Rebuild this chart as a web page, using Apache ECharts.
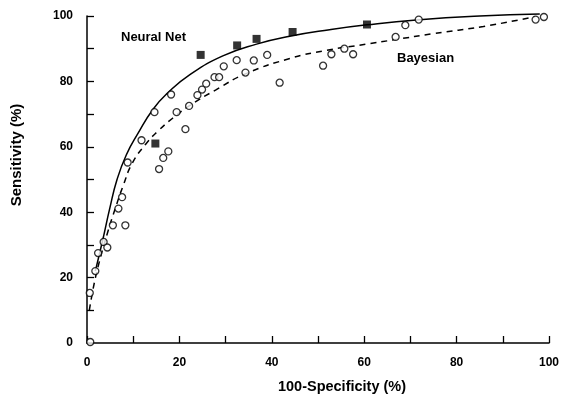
<!DOCTYPE html>
<html>
<head>
<meta charset="utf-8">
<script src="https://cdn.jsdelivr.net/npm/echarts@6/dist/echarts.min.js"></script>
<style>
  html, body { margin: 0; padding: 0; background: #fff; }
  #chart { width: 563px; height: 395px; }
</style>
</head>
<body>
<div id="chart"></div>
<script>
// traced fitted curves, [100-specificity, sensitivity]
const neuralCurve = [
  [1.8, 22], [3.4, 31.5], [4.9, 41], [6.5, 50], [8.5, 57.5], [11, 64],
  [14.3, 71.5], [17.5, 76.5], [22.2, 82], [29.4, 87.8], [36.7, 91.4],
  [43.9, 93.8], [52.5, 95.8], [60.6, 97.3], [71.3, 98.8], [85, 100], [98, 100.6],
];
const bayesCurve = [
  [0.5, 10], [1.6, 18.5], [2.7, 25], [4.4, 33.5], [6.2, 41.5], [7.8, 48],
  [9.8, 55], [12.7, 60.8], [15.5, 65], [18.6, 68.8], [22.2, 72.6], [28, 77.5],
  [34.3, 82.3], [43.9, 87], [51.8, 89.5], [60.5, 91.4], [66.8, 92.8],
  [74.9, 94.6], [85.8, 96.8], [97, 99.8],
];

// observed operating points
const neuralPoints = [
  [14.8, 61], [24.6, 88.1], [32.5, 91], [36.7, 93], [44.5, 95.1], [60.6, 97.4],
];
const bayesPoints = [
  [0.7, 0.3], [0.6, 15.3], [1.8, 22], [2.4, 27.5], [3.6, 30.9], [4.4, 29.2],
  [5.6, 36], [8.3, 36], [6.8, 41.1], [7.6, 44.6], [8.8, 55.2], [11.8, 62],
  [15.6, 53.2], [16.5, 56.6], [17.6, 58.6], [14.6, 70.6], [18.2, 76],
  [19.4, 70.6], [21.3, 65.4], [22.1, 72.5], [23.9, 75.8], [24.9, 77.5],
  [25.8, 79.3], [27.6, 81.3], [28.6, 81.3], [29.6, 84.6], [32.4, 86.5],
  [34.3, 82.7], [36.1, 86.4], [39, 88.1], [41.7, 79.6], [51.1, 84.8],
  [52.9, 88.3], [55.7, 90], [57.6, 88.3], [66.8, 93.6], [68.9, 97.2],
  [71.8, 98.9], [97.1, 98.9], [98.9, 99.7],
];

const font = 'Liberation Sans, Arial, Helvetica, sans-serif';

const axisCommon = {
  type: 'value',
  min: 0,
  max: 100,
  interval: 10,
  splitLine: { show: false },
  axisLine: { show: true, onZero: false, lineStyle: { color: '#000', width: 1.5 } },
  axisTick: { show: true, inside: true, length: 7, lineStyle: { color: '#000', width: 1.3 } },
  axisLabel: {
    color: '#000',
    fontFamily: font,
    fontWeight: 'bold',
    fontSize: 12,
    formatter: (v) => (v % 20 === 0 ? String(v) : ''),
  },
};

const chart = echarts.init(document.getElementById('chart'), null, { renderer: 'canvas' });

chart.setOption({
  animation: false,
  backgroundColor: '#fff',
  grid: { left: 87, right: 14, top: 16, bottom: 52, containLabel: false },
  xAxis: { ...axisCommon, axisLabel: { ...axisCommon.axisLabel, margin: 14 } },
  yAxis: { ...axisCommon, axisLabel: { ...axisCommon.axisLabel, margin: 14 } },
  graphic: [
    {
      type: 'text', x: 342, y: 387,
      style: { text: '100-Specificity (%)', fill: '#000', font: 'bold 14.5px ' + font, align: 'center', verticalAlign: 'middle' },
    },
    {
      type: 'text', x: 17, y: 155, rotation: Math.PI / 2,
      style: { text: 'Sensitivity (%)', fill: '#000', font: 'bold 15px ' + font, align: 'center', verticalAlign: 'middle' },
    },
    {
      type: 'text', x: 121, y: 37,
      style: { text: 'Neural Net', fill: '#000', font: 'bold 13px ' + font, align: 'left', verticalAlign: 'middle' },
    },
    {
      type: 'text', x: 397, y: 58,
      style: { text: 'Bayesian', fill: '#000', font: 'bold 13px ' + font, align: 'left', verticalAlign: 'middle' },
    },
  ],
  series: [
    {
      name: 'Neural Net curve',
      type: 'line',
      data: neuralCurve,
      smooth: 0.5,
      showSymbol: false,
      clip: false,
      lineStyle: { color: '#000', width: 1.5, type: 'solid' },
      z: 2,
    },
    {
      name: 'Bayesian curve',
      type: 'line',
      data: bayesCurve,
      smooth: 0.5,
      showSymbol: false,
      clip: false,
      lineStyle: { color: '#000', width: 1.5, type: [6, 5] },
      z: 2,
    },
    {
      name: 'Bayesian',
      type: 'scatter',
      data: bayesPoints,
      symbol: 'circle',
      symbolSize: 7,
      clip: false,
      itemStyle: { color: '#fff', borderColor: '#000', borderWidth: 1.3 },
      z: 3,
    },
    {
      name: 'Neural Net',
      type: 'scatter',
      data: neuralPoints,
      symbol: 'rect',
      symbolSize: 8,
      clip: false,
      itemStyle: { color: '#000' },
      z: 4,
    },
  ],
});
</script>
</body>
</html>
